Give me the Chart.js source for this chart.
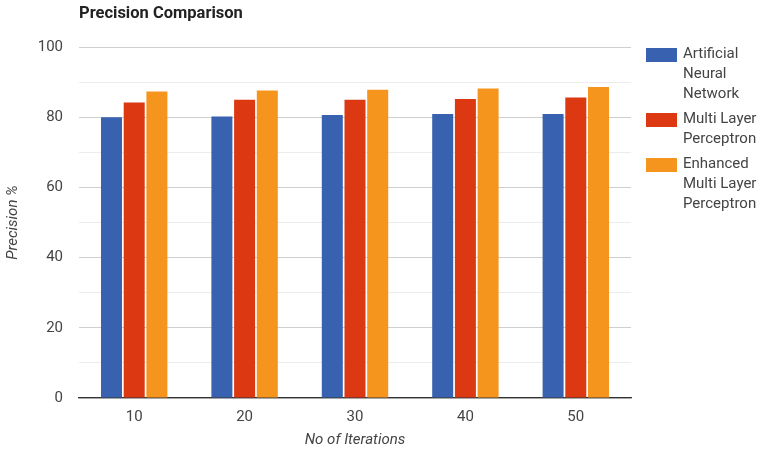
<!DOCTYPE html>
<html>
<head>
<meta charset="utf-8">
<title>Precision Comparison</title>
<script src="https://cdn.jsdelivr.net/npm/chart.js@4.4.1/dist/chart.umd.min.js"></script>
<style>
  html, body { margin: 0; padding: 0; background: #fff; }
  #wrap { width: 763px; height: 450px; position: relative; }
</style>
</head>
<body>
<div id="wrap"><canvas id="precisionChart"></canvas></div>
<script>
// ---------------------------
//   DATOS
// ---------------------------
const iterations = ["10", "20", "30", "40", "50"];

const annValues  = [80.0, 80.2, 80.6, 80.9, 80.9];
const mlpValues  = [84.2, 85.0, 85.0, 85.2, 85.6];
const emlpValues = [87.3, 87.6, 87.8, 88.2, 88.6];

const seriesNames = ["Artificial Neural Network", "Multi Layer Perceptron", "Enhanced Multi Layer Perceptron"];
const legendLines = [
  ["Artificial", "Neural", "Network"],
  ["Multi Layer", "Perceptron"],
  ["Enhanced", "Multi Layer", "Perceptron"]
];
const seriesColors = ["#3862b0", "#dc3912", "#f5951e"];

const yTicks = [0, 20, 40, 60, 80, 100];

const chartTitle = "Precision Comparison";
const xTitle = "No of Iterations";
const yTitle = "Precision %";

const FONT = "Roboto, 'Liberation Sans', Arial, sans-serif";

// ---------------------------
//   TÍTULO Y LEYENDA PROPIOS
// ---------------------------
const titleAndLegend = {
  id: "titleAndLegend",
  afterDraw(chart) {
    const ctx = chart.ctx;
    const area = chart.chartArea;
    ctx.save();

    // título
    ctx.font = "bold 16.5px " + FONT;
    ctx.fillStyle = "#222";
    ctx.textAlign = "left";
    ctx.textBaseline = "middle";
    ctx.fillText(chartTitle, area.left, 14);

    // leyenda a la derecha, líneas partidas
    const boxX = area.right + 15;
    const textX = boxX + 37;
    let top = 48;
    ctx.font = "15px " + FONT;
    chart.data.datasets.forEach((ds, i) => {
      ctx.fillStyle = ds.backgroundColor;
      ctx.fillRect(boxX, top, 31, 14);
      ctx.fillStyle = "#444";
      legendLines[i].forEach((line, j) => {
        ctx.fillText(line, textX, top + 6 + j * 20);
      });
      top += legendLines[i].length * 20 + 5;
    });
    ctx.restore();
  }
};

// ---------------------------
//   GRÁFICA
// ---------------------------
const ctx = document.getElementById("precisionChart").getContext("2d");

new Chart(ctx, {
  type: "bar",
  data: {
    labels: iterations,
    datasets: [annValues, mlpValues, emlpValues].map((vals, i) => ({
      label: seriesNames[i],
      data: vals,
      backgroundColor: seriesColors[i],
      borderWidth: 0,
      categoryPercentage: 0.617,
      barPercentage: 0.925
    }))
  },
  options: {
    responsive: true,
    maintainAspectRatio: false,
    animation: false,
    layout: { padding: { top: 47, right: 132, left: 0, bottom: 0 } },
    plugins: {
      legend: { display: false },
      title: { display: false },
      tooltip: { enabled: true }
    },
    scales: {
      x: {
        grid: { display: false, drawTicks: false },
        border: { display: true, color: "#333", width: 1.3 },
        ticks: { color: "#444", font: { family: FONT, size: 15 }, padding: 10 },
        title: {
          display: true,
          text: xTitle,
          color: "#444",
          font: { family: FONT, size: 15, style: "italic" },
          padding: { top: 0, bottom: 1 }
        },
        afterFit(scale) { scale.height = 52; }
      },
      y: {
        min: 0,
        max: 100,
        afterBuildTicks(scale) {
          // una línea cada 10, etiqueta solo en las de yTicks
          const t = [];
          for (let v = 0; v <= 100; v += 10) t.push({ value: v });
          scale.ticks = t;
        },
        grid: {
          drawTicks: false,
          color: (c) => (yTicks.includes(c.tick.value) ? "#cfcfcf" : "#ececec"),
          lineWidth: 1
        },
        border: { display: false },
        ticks: {
          color: "#444",
          font: { family: FONT, size: 15 },
          padding: 16,
          callback: (v) => (yTicks.includes(v) ? v : "")
        },
        title: {
          display: true,
          text: yTitle,
          color: "#444",
          font: { family: FONT, size: 15, style: "italic" },
          padding: { top: 4, bottom: 0 }
        },
        afterFit(scale) { scale.width = 79; }
      }
    }
  },
  plugins: [titleAndLegend]
});
</script>
</body>
</html>
